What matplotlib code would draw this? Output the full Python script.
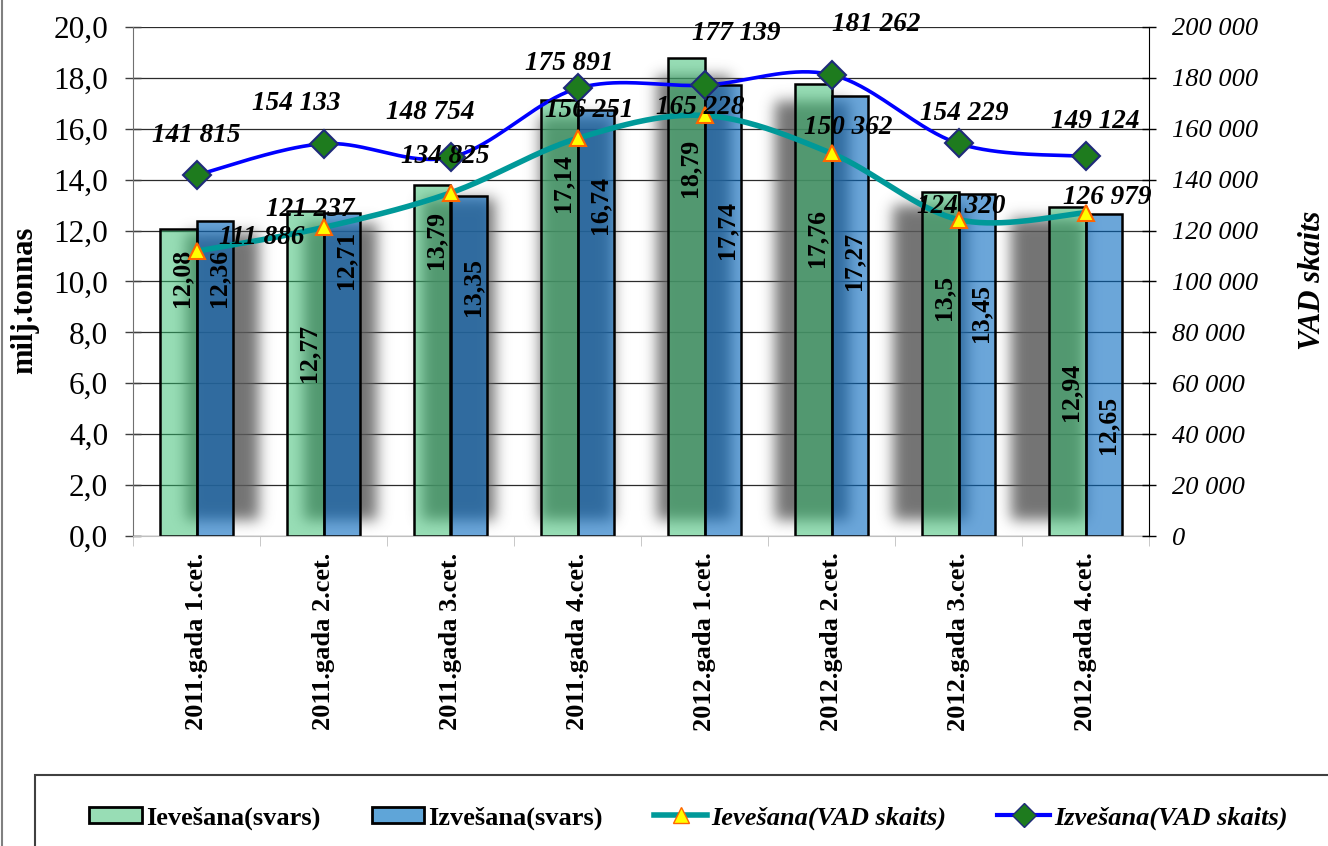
import numpy as np
import matplotlib.pyplot as plt
from matplotlib.patches import Patch, Rectangle
from matplotlib.lines import Line2D

plt.rcParams['font.family'] = ['Liberation Serif', 'DejaVu Serif']

# data
categories = ['2011.gada 1.cet.', '2011.gada 2.cet.', '2011.gada 3.cet.', '2011.gada 4.cet.',
              '2012.gada 1.cet.', '2012.gada 2.cet.', '2012.gada 3.cet.', '2012.gada 4.cet.']
import_mass = [12.08, 12.77, 13.79, 17.14, 18.79, 17.76, 13.5, 12.94]
export_mass = [12.36, 12.71, 13.35, 16.74, 17.74, 17.27, 13.45, 12.65]
import_count = [111886, 121237, 134825, 156251, 165228, 150362, 124320, 126979]
export_count = [141815, 154133, 148754, 175891, 177139, 181262, 154229, 149124]

series_names = ['Ievešana(svars)', 'Izvešana(svars)', 'Ievešana(VAD skaits)', 'Izvešana(VAD skaits)']

# label placement (hand placed in the original), in data units / pixels
import_bar_label_y = [10.14, 7.19, 11.63, 13.87, 14.46, 11.71, 9.39, 5.66]
export_bar_label_y = [10.14, 10.84, 9.78, 13.0, 12.02, 10.8, 8.76, 4.36]
import_label_off = [(65, -14), (-13, -18), (-5, -36), (12, -28), (-4, -8), (17, -26), (3, -13), (22, -15)]
export_label_off = [(0, -40), (-27, -40), (-20, -45), (-8, -25), (32, -52), (45, -50), (6, -30), (10, -35)]
shadow_shift = [0.2, 0.13, 0.06, -0.01, -0.08, -0.15, -0.22, -0.29]


def fmt_thousands(v):
    return '{:,}'.format(int(v)).replace(',', ' ')


def smooth(xs, ys, n=40):
    # excel-like smoothed line (bezier through the points)
    pts = np.column_stack([xs, ys]).astype(float)
    out = []
    for i in range(len(pts) - 1):
        p0 = pts[max(i - 1, 0)]
        p1 = pts[i]
        p2 = pts[i + 1]
        p3 = pts[min(i + 2, len(pts) - 1)]
        c1 = p1 + (p2 - p0) / 6
        c2 = p2 - (p3 - p1) / 6
        t = np.linspace(0, 1, n)[:, None]
        seg = (1 - t) ** 3 * p1 + 3 * (1 - t) ** 2 * t * c1 + 3 * (1 - t) * t ** 2 * c2 + t ** 3 * p2
        out.append(seg if i == 0 else seg[1:])
    return np.vstack(out)


fig = plt.figure(figsize=(13.28, 8.46), dpi=100)
ax = fig.add_axes([133 / 1328, 310 / 846, 1016 / 1328, 509 / 846])

x = np.arange(len(categories))
w = 0.29

# blurred shadows behind the bar pairs
nx, ny = 1016, 509
gx = np.linspace(-0.5, 7.5, nx)
gy = np.linspace(0, 20, ny)
mask = np.zeros((ny, nx))
for i in range(len(categories)):
    cx = i + shadow_shift[i]
    top = 0.6 + (max(import_mass[i], export_mass[i]) - 0.6) * 0.96
    mx = (gx >= cx - w) & (gx <= cx + w)
    my = (gy >= 0.6) & (gy <= top)
    mask[np.ix_(my, mx)] = 1.0
k = np.exp(-0.5 * (np.arange(-21, 22) / 7.0) ** 2)
k /= k.sum()
mask = np.apply_along_axis(lambda r: np.convolve(r, k, mode='same'), 1, mask)
mask = np.apply_along_axis(lambda c: np.convolve(c, k, mode='same'), 0, mask)
rgba = np.zeros((ny, nx, 4))
rgba[..., :3] = 0.36
rgba[..., 3] = mask * 0.85
ax.imshow(rgba, extent=(-0.5, 7.5, 0, 20), origin='lower', aspect='auto',
          zorder=1, interpolation='bilinear')

green = (49 / 255, 189 / 255, 109 / 255, 0.5)
blue = (0, 102 / 255, 191 / 255, 0.58)
ax.bar(x - w / 2, import_mass, w, facecolor=green, edgecolor='black', linewidth=1.8, zorder=2)
ax.bar(x + w / 2, export_mass, w, facecolor=blue, edgecolor='black', linewidth=1.8, zorder=2)

for i in range(len(categories)):
    ax.text(x[i] - w / 2 + 0.03, import_bar_label_y[i], str(import_mass[i]).replace('.', ','),
            rotation=90, ha='center', va='center', fontsize=18.5, fontweight='bold', zorder=3)
    ax.text(x[i] + w / 2 + 0.03, export_bar_label_y[i], str(export_mass[i]).replace('.', ','),
            rotation=90, ha='center', va='center', fontsize=18.5, fontweight='bold', zorder=3)

ax.set_xlim(-0.5, 7.5)
ax.set_ylim(0, 20)
ax.set_yticks(np.arange(0, 21, 2))
ax.set_yticklabels(['{:.1f}'.format(v).replace('.', ',') for v in np.arange(0, 21, 2)])
ax.yaxis.grid(True, color='#2b2b2b', linewidth=0.9)
ax.set_axisbelow(True)
ax.tick_params(axis='y', direction='inout', length=12, width=1, color='#404040', pad=12, labelsize=22.5)

ax.set_xticks(x)
ax.set_xticklabels(categories, rotation=90, fontsize=19, fontweight='bold', va='top')
ax.set_xticks(np.arange(-0.5, 8, 1), minor=True)
ax.tick_params(axis='x', which='major', length=0, pad=12)
ax.tick_params(axis='x', which='minor', length=7, color='#BFBFBF', direction='out')

ax.spines['top'].set_visible(False)
ax.spines['right'].set_visible(False)
ax.spines['left'].set_color('#707070')
ax.spines['bottom'].set_color('#BFBFBF')

# right axis with the count lines
ax2 = ax.twinx()
ax2.set_ylim(0, 200000)
ax2.set_yticks(np.arange(0, 200001, 20000))
ax2.set_yticklabels([fmt_thousands(v) for v in np.arange(0, 200001, 20000)], fontstyle='italic', fontsize=19)
ax2.tick_params(axis='y', direction='inout', length=10, width=1, color='black', pad=11.5)
for s in ['top', 'left', 'bottom']:
    ax2.spines[s].set_visible(False)
ax2.spines['right'].set_color('black')

imp_curve = smooth(x, import_count)
exp_curve = smooth(x, export_count)
ax2.plot(imp_curve[:, 0], imp_curve[:, 1], color='#009999', linewidth=4, zorder=3, solid_capstyle='round')
ax2.plot(exp_curve[:, 0], exp_curve[:, 1], color='#0000FF', linewidth=2.6, zorder=3, solid_capstyle='round')
ax2.plot(x, import_count, linestyle='none', marker='^', markersize=12, markerfacecolor='#FFFF00',
         markeredgecolor='#FF6600', markeredgewidth=1.5, zorder=4)
ax2.plot(x, export_count, linestyle='none', marker='D', markersize=14, markerfacecolor='#1E7B1E',
         markeredgecolor='#1F2A7A', markeredgewidth=1.5, zorder=4)

for i in range(len(categories)):
    dx, dy = import_label_off[i]
    ax2.annotate(fmt_thousands(import_count[i]), (x[i], import_count[i]), xytext=(dx * 0.72, -dy * 0.72),
                 textcoords='offset points', ha='center', va='center', fontsize=19.5,
                 fontweight='bold', fontstyle='italic', zorder=5)
    dx, dy = export_label_off[i]
    ax2.annotate(fmt_thousands(export_count[i]), (x[i], export_count[i]), xytext=(dx * 0.72, -dy * 0.72),
                 textcoords='offset points', ha='center', va='center', fontsize=19.5,
                 fontweight='bold', fontstyle='italic', zorder=5)

fig.text(25 / 1328, 1 - 300 / 846, 'milj.tonnas', rotation=90, ha='center', va='center',
         fontsize=22, fontweight='bold')
fig.text(1312 / 1328, 1 - 280 / 846, 'VAD skaits', rotation=90, ha='center', va='center',
         fontsize=22, fontweight='bold', fontstyle='italic')

# legend box and outer frame line
fig.patches.append(Rectangle((35 / 1328, -0.1), 1.2, (846 - 775) / 846 + 0.1, transform=fig.transFigure,
                             fill=False, edgecolor='#404040', linewidth=1.5))
fig.lines.append(Line2D([1.5 / 1328, 1.5 / 1328], [0, 1], transform=fig.transFigure, color='#808080', linewidth=1.5))

handles = [Patch(facecolor='#98DDB5', edgecolor='black', linewidth=2),
           Patch(facecolor='#5FA5D8', edgecolor='black', linewidth=2),
           Line2D([], [], color='#009999', linewidth=4, marker='^', markersize=12,
                  markerfacecolor='#FFFF00', markeredgecolor='#FF6600'),
           Line2D([], [], color='#0000FF', linewidth=3, marker='D', markersize=12,
                  markerfacecolor='#1E7B1E', markeredgecolor='#1F2A7A')]
leg = fig.legend(handles, series_names, loc='center left', bbox_to_anchor=(89 / 1328, 1 - 818 / 846),
                 ncol=4, frameon=False, fontsize=19, handlelength=2.0, handleheight=0.6,
                 handletextpad=0.15, columnspacing=1.95, borderpad=0, borderaxespad=0)
for i, t in enumerate(leg.get_texts()):
    t.set_fontweight('bold')
    if i >= 2:
        t.set_fontstyle('italic')

fig.savefig('out.png', dpi=100)
